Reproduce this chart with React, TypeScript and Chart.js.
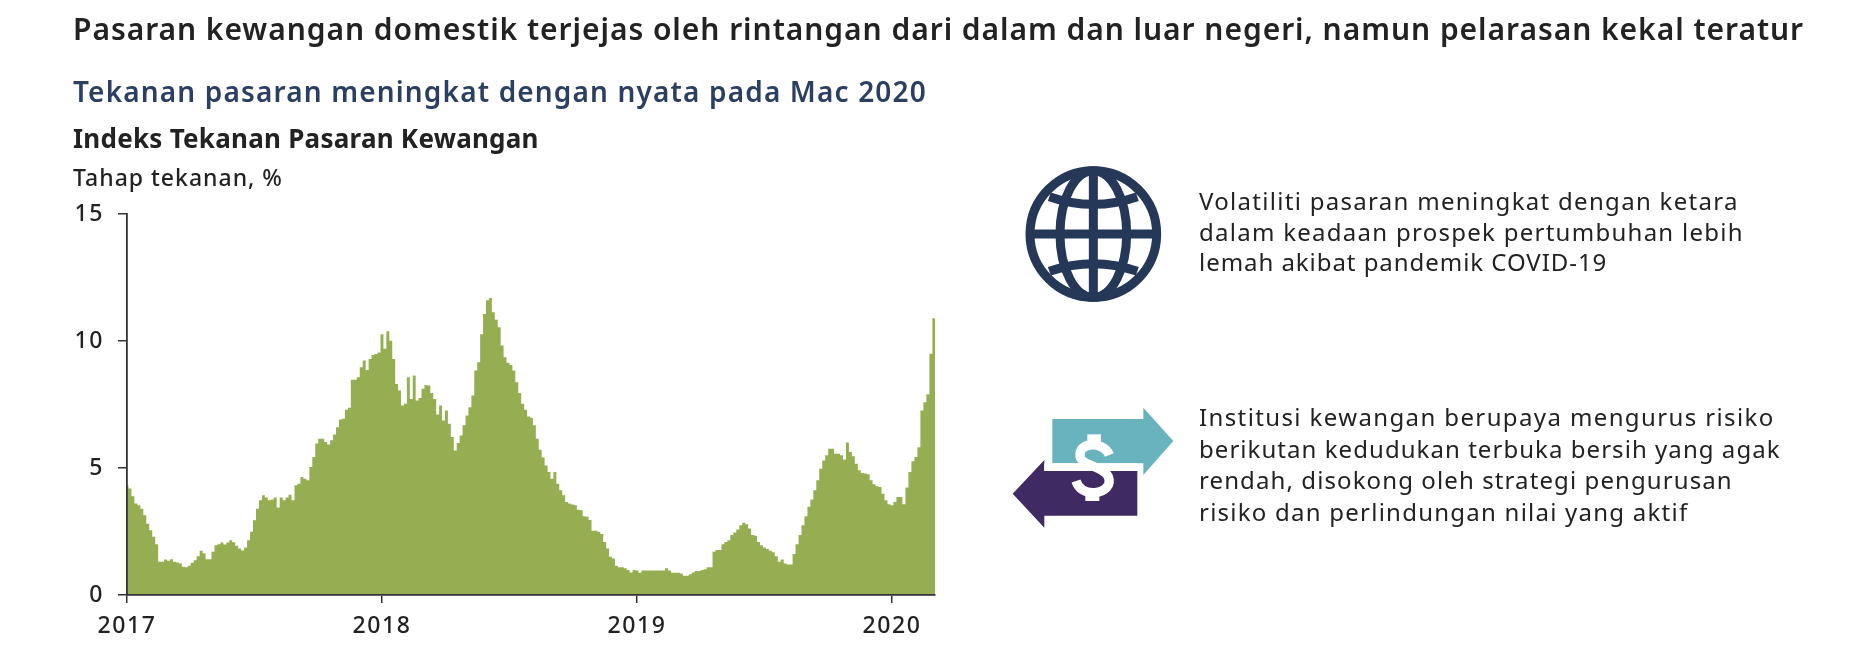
import React, { useEffect, useRef } from "react";
import { Chart, registerables } from "chart.js";

Chart.register(...registerables);

const TITLE = "Pasaran kewangan domestik terjejas oleh rintangan dari dalam dan luar negeri, namun pelarasan kekal teratur";
const SUBTITLE = "Tekanan pasaran meningkat dengan nyata pada Mac 2020";
const CHART_TITLE = "Indeks Tekanan Pasaran Kewangan";
const UNIT = "Tahap tekanan, %";
const NOTE_ONE = ["Volatiliti pasaran meningkat dengan ketara", "dalam keadaan prospek pertumbuhan lebih", "lemah akibat pandemik COVID-19"];
const NOTE_ONE_SPACING = [1.3, 1.27, 0.95];
const NOTE_TWO = ["Institusi kewangan berupaya mengurus risiko", "berikutan kedudukan terbuka bersih yang agak", "rendah, disokong oleh strategi pengurusan", "risiko dan perlindungan nilai yang aktif"];
const NOTE_TWO_SPACING = [1.38, 1.05, 1.1, 1.24];

const yearTicks = [2017, 2018, 2019, 2020];
const valueTicks = [0, 5, 10, 15];

const values2017 = [4.32, 4.19, 3.89, 3.6, 3.53, 3.4, 3.14, 2.81, 2.55, 2.29, 2.0, 1.31, 1.31, 1.4, 1.35, 1.41, 1.31, 1.28, 1.24, 1.11, 1.09, 1.15, 1.27, 1.37, 1.53, 1.74, 1.64, 1.41, 1.41, 1.7, 1.96, 2.0, 2.07, 1.99, 2.07, 2.16, 2.08, 1.94, 1.83, 1.75, 1.87, 2.16, 2.49, 2.94, 3.4, 3.73, 3.93, 3.84, 3.73, 3.76, 3.84, 3.44, 3.84, 3.73, 3.84, 3.95, 3.73, 4.32, 4.38, 4.65, 4.58, 4.52, 5.04, 5.43, 5.96, 6.15, 6.15, 6.02, 5.93, 6.09, 6.32, 6.6, 6.91, 6.94, 7.29, 7.37, 8.47, 8.47, 8.57, 8.97, 9.23, 8.86, 9.29, 9.45, 9.49, 9.55];
const values2018 = [10.27, 9.69, 10.38, 10.01, 9.29, 8.31, 8.05, 7.46, 7.53, 8.57, 7.72, 8.64, 7.66, 7.76, 8.12, 8.27, 8.25, 7.95, 7.72, 7.11, 7.46, 6.87, 7.26, 6.74, 6.22, 5.69, 5.98, 6.28, 6.68, 7.07, 7.39, 7.85, 8.84, 9.16, 10.27, 11.06, 11.6, 11.69, 11.13, 10.84, 10.54, 9.82, 9.36, 9.14, 9.06, 8.84, 8.38, 7.95, 7.53, 7.29, 7.03, 6.98, 6.68, 6.15, 5.72, 5.41, 5.1, 4.84, 4.58, 4.84, 4.38, 4.12, 3.93, 3.66, 3.6, 3.56, 3.53, 3.36, 3.34, 3.1, 3.08, 2.95, 2.53, 2.53, 2.49, 2.4, 2.09, 1.83, 1.51, 1.44, 1.15, 1.09, 1.09, 1.05, 0.98, 0.89, 0.98];
const values2019 = [0.96, 0.88, 0.96, 0.96, 0.96, 0.96, 0.96, 0.96, 0.96, 0.96, 1.05, 0.96, 0.88, 0.88, 0.88, 0.85, 0.76, 0.76, 0.82, 0.89, 0.94, 0.94, 0.98, 1.01, 1.09, 1.09, 1.7, 1.77, 1.77, 2.0, 2.09, 2.16, 2.36, 2.46, 2.58, 2.75, 2.84, 2.79, 2.62, 2.36, 2.33, 2.09, 1.96, 1.87, 1.81, 1.74, 1.68, 1.53, 1.31, 1.4, 1.24, 1.2, 1.2, 1.61, 2.0, 2.36, 2.75, 3.1, 3.47, 3.76, 4.12, 4.52, 4.97, 5.3, 5.5, 5.76, 5.76, 5.56, 5.56, 5.5, 5.33, 6.0, 5.63, 5.46, 5.17, 4.91, 4.8, 4.78, 4.75, 4.52, 4.36, 4.28, 4.25, 3.99, 3.73, 3.57];
const values2020 = [3.53, 3.66, 3.86, 3.86, 3.57, 4.23, 4.84, 5.27, 5.43, 5.82, 7.26, 7.59, 7.9, 9.5, 10.9, 10.9];
const samplesPerYear2020 = 85;

const X_MAX = 2020.169;
const INK = "#222222";
const FONT = "'Noto Sans', sans-serif";

function yearPoints(year: number, vals: number[], perYear: number) {
  return vals.map((y, j) => ({ x: year + j / perYear, y }));
}

const textStyle = (left: number, top: number, size: number, weight: number, color: string, spacing: number): React.CSSProperties => ({
  position: "absolute",
  left,
  top,
  fontFamily: FONT,
  fontSize: size,
  fontWeight: weight,
  color,
  letterSpacing: spacing,
  lineHeight: 1,
  whiteSpace: "nowrap",
});

const tickSpacing = {
  id: "tickSpacing",
  beforeDraw(chart: any) {
    chart.ctx.letterSpacing = "1.6px";
  },
};

export default function App() {
  const ref = useRef<HTMLCanvasElement | null>(null);
  useEffect(() => {
    if (!ref.current) return;
    const points = [
      ...yearPoints(2017, values2017, values2017.length),
      ...yearPoints(2018, values2018, values2018.length),
      ...yearPoints(2019, values2019, values2019.length),
      ...yearPoints(2020, values2020, samplesPerYear2020),
    ];
    const chart = new Chart(ref.current, {
      type: "line",
      plugins: [tickSpacing],
      data: {
        datasets: [
          {
            data: points,
            stepped: "middle",
            fill: "origin",
            backgroundColor: "#96AE52",
            borderWidth: 0,
            pointRadius: 0,
          },
        ],
      },
      options: {
        animation: false,
        responsive: false,
        devicePixelRatio: 1,
        layout: { autoPadding: false, padding: { left: 0, top: 214, right: 939, bottom: 0 } },
        plugins: { legend: { display: false }, tooltip: { enabled: false } },
        scales: {
          x: {
            type: "linear",
            min: 2017,
            max: X_MAX,
            afterBuildTicks: (s: any) => {
              s.ticks = yearTicks.map((value) => ({ value }));
            },
            afterFit: (s: any) => {
              s.height = 77;
            },
            border: { color: "#333333", width: 1.8, z: 1 },
            grid: { drawOnChartArea: false, drawTicks: true, tickLength: 8, color: "#333333", lineWidth: 1.5, z: 1 },
            ticks: {
              color: INK,
              font: { family: "'Noto Sans', sans-serif", size: 23, weight: 500 },
              padding: 10,
              maxRotation: 0,
              autoSkip: false,
              callback: (v: any) => String(v),
            },
          },
          y: {
            min: 0,
            max: 15,
            afterBuildTicks: (s: any) => {
              s.ticks = valueTicks.map((value) => ({ value }));
            },
            afterFit: (s: any) => {
              s.width = 127;
            },
            border: { color: "#333333", width: 1.8, z: 1 },
            grid: { drawOnChartArea: false, drawTicks: true, tickLength: 9, color: "#333333", lineWidth: 1.5, z: 1 },
            ticks: {
              color: INK,
              font: { family: "'Noto Sans', sans-serif", size: 23, weight: 500 },
              padding: 14,
              callback: (v: any) => String(v),
            },
          },
        },
      },
    });
    return () => chart.destroy();
  }, []);

  return (
    <div style={{ position: "absolute", left: 0, top: 0, width: 1874, height: 672, overflow: "hidden", background: "#fff" }}>
      <canvas ref={ref} width={1874} height={672} style={{ position: "absolute", left: 0, top: 0, width: 1874, height: 672 }} />
      <div style={textStyle(73, 14, 30, 600, "#222", 0.95)}>{TITLE}</div>
      <div style={textStyle(73, 77, 28, 600, "#2A3F61", 1.15)}>{SUBTITLE}</div>
      <div style={textStyle(73, 125, 26, 700, "#222", 0.25)}>{CHART_TITLE}</div>
      <div style={textStyle(73, 166, 23, 500, "#222", 1.0)}>{UNIT}</div>
      {NOTE_ONE.map((t, i) => (
        <div key={t} style={textStyle(1199, 189 + i * 30.7, 24, 400, "#222", NOTE_ONE_SPACING[i])}>{t}</div>
      ))}
      {NOTE_TWO.map((t, i) => (
        <div key={t} style={textStyle(1199, 405 + i * 31.7, 24, 400, "#222", NOTE_TWO_SPACING[i])}>{t}</div>
      ))}
      <svg style={{ position: "absolute", left: 1010, top: 155 }} width={190} height={160} viewBox="0 0 570 480">
        <g fill="none" stroke="#253858" strokeWidth={27}>
          <circle cx={250} cy={237} r={190} />
          <ellipse cx={250} cy={237} rx={100} ry={190} />
          <path d="M250 47V427M60 237H440" />
          <path d="M118 125Q250 171 382 125M118 349Q250 303 382 349" />
        </g>
      </svg>
      <svg style={{ position: "absolute", left: 1000, top: 395 }} width={190} height={145} viewBox="0 0 570 435">
        <polygon points="157,72 430,72 430,38 520,138 430,240 430,205 157,205" fill="#68B3BE" />
        <polygon points="412,228 133,228 133,195 38,296 133,398 133,362 412,362" fill="#3F2A63" />
        <path d="M133 216.500H412" stroke="#fff" strokeWidth={23} />
        <path d="M328 180C318 155 290 148 270 150C245 153 235 172 242 190C252 212 310 215 325 245C335 270 315 290 285 293C255 295 235 280 228 258" fill="none" stroke="#fff" strokeWidth={28} />
        <rect x={262} y={118} width={41} height={28} fill="#fff" />
        <rect x={256} y={292} width={42} height={26} fill="#fff" />
      </svg>
    </div>
  );
}
